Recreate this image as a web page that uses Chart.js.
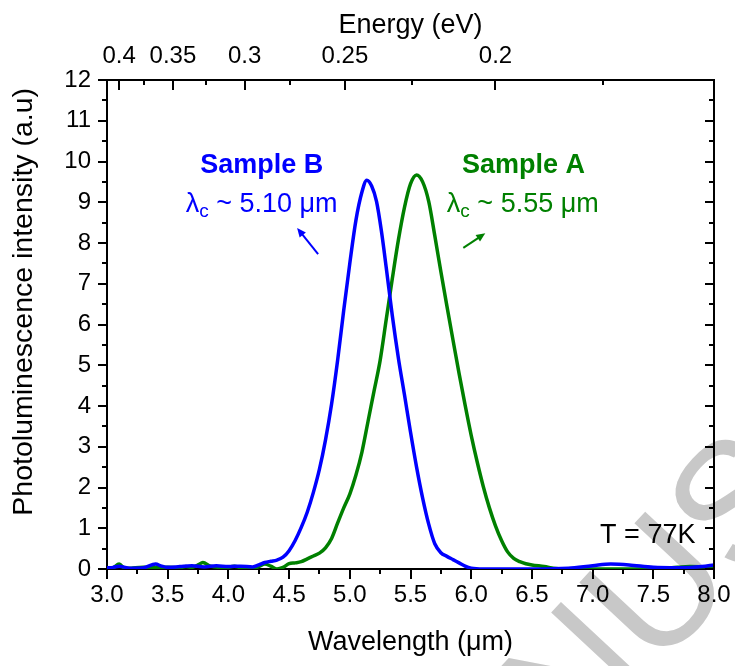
<!DOCTYPE html>
<html>
<head>
<meta charset="utf-8">
<script src="https://cdn.jsdelivr.net/npm/chart.js@4.4.1/dist/chart.umd.min.js"></script>
<style>
  body { margin: 0; background: #fff; }
  canvas { display: block; }
</style>
</head>
<body>
<canvas id="plChart" width="735" height="666"></canvas>
<script>
// wavelength (um) / intensity (a.u)
const wavelengthB = [3.00,3.05,3.10,3.15,3.20,3.30,3.40,3.45,3.50,3.60,3.70,3.80,3.90,4.00,4.10,4.20,4.25,4.30,4.35,4.40,4.45,4.50,4.55,4.60,4.65,4.70,4.75,4.80,4.85,4.90,4.95,5.00,5.05,5.10,5.14,5.18,5.22,5.26,5.30,5.35,5.40,5.45,5.50,5.55,5.60,5.65,5.70,5.75,5.80,5.85,5.90,5.95,6.00,6.10,6.50,6.80,7.00,7.15,7.30,7.50,7.70,7.90,8.00];
const intensityB = [0.03,0.04,0.07,0.04,0.02,0.03,0.12,0.07,0.04,0.06,0.08,0.05,0.08,0.06,0.07,0.05,0.10,0.16,0.19,0.22,0.29,0.45,0.70,1.02,1.40,1.88,2.45,3.17,4.05,5.13,6.35,7.50,8.55,9.25,9.54,9.40,9.02,8.30,7.40,6.22,5.18,4.28,3.36,2.50,1.74,1.10,0.62,0.40,0.31,0.23,0.15,0.07,0.02,0.00,0.00,0.02,0.08,0.12,0.10,0.04,0.03,0.06,0.10];

const wavelengthA = [3.00,3.05,3.10,3.15,3.20,3.30,3.40,3.50,3.60,3.65,3.70,3.75,3.79,3.85,3.90,3.95,4.05,4.10,4.20,4.25,4.30,4.35,4.40,4.45,4.50,4.55,4.60,4.65,4.70,4.75,4.80,4.85,4.90,4.95,5.00,5.05,5.10,5.15,5.20,5.25,5.30,5.35,5.40,5.45,5.50,5.55,5.60,5.65,5.70,5.75,5.80,5.85,5.90,5.95,6.00,6.05,6.10,6.15,6.20,6.25,6.30,6.35,6.40,6.45,6.50,6.60,6.70,6.80,7.00,7.50,7.70,7.80,8.00];
const intensityA = [0.00,0.03,0.12,0.01,0.02,0.04,0.04,0.04,0.03,0.06,0.04,0.10,0.16,0.07,0.05,0.01,0.07,0.03,0.02,0.06,0.12,0.07,0.00,0.04,0.13,0.15,0.18,0.25,0.32,0.39,0.52,0.75,1.13,1.50,1.84,2.30,2.87,3.62,4.37,5.12,6.12,7.12,8.07,8.87,9.45,9.67,9.50,9.02,8.18,7.30,6.45,5.62,4.80,4.02,3.28,2.62,2.02,1.50,1.06,0.70,0.42,0.26,0.18,0.13,0.10,0.06,0.01,0.00,0.00,0.00,0.04,0.06,0.05];

const wavelengthTicks = [3.0,3.5,4.0,4.5,5.0,5.5,6.0,6.5,7.0,7.5,8.0];
const intensityTicks = [0,1,2,3,4,5,6,7,8,9,10,11,12];
const energyTicks = [0.4,0.35,0.3,0.25,0.2];
const energyMinor = [0.375,0.325,0.275,0.225,0.175];

const FONT = '"Liberation Sans", Arial, Helvetica, sans-serif';
const BLUE = '#0000ff';
const GREEN = '#008000';

Chart.defaults.font.family = FONT;
Chart.defaults.color = '#000';

function toPoints(xs, ys) {
  return xs.map(function (x, i) { return { x: x, y: ys[i] }; });
}

// white page + grey watermark behind everything
const background = {
  id: 'background',
  beforeDraw(chart) {
    const c = chart.ctx;
    c.save();
    c.fillStyle = '#fff';
    c.fillRect(0, 0, chart.width, chart.height);
    c.translate(364, 916);
    c.rotate(-47 * Math.PI / 180);
    c.font = '170px ' + FONT;
    c.fillStyle = '#c8c8c8';
    c.textBaseline = 'middle';
    c.fillText('MANUSCRIPT', 0, 0);
    c.restore();
  }
};

// Origin-style frame: outward ticks left/bottom, inward ticks top/right
const frameTicks = {
  id: 'frameTicks',
  afterDraw(chart) {
    const c = chart.ctx;
    const a = chart.chartArea;
    const xs = chart.scales.x;
    const ys = chart.scales.y;
    c.save();
    c.strokeStyle = '#000';
    c.lineWidth = 2;
    function seg(x1, y1, x2, y2) {
      c.beginPath(); c.moveTo(x1, y1); c.lineTo(x2, y2); c.stroke();
    }
    for (let i = 0; i <= 20; i++) {
      const v = 3 + i * 0.25;
      const px = Math.round(xs.getPixelForValue(v));
      seg(px, a.bottom, px, a.bottom + (i % 2 === 0 ? 10 : 5));
    }
    for (let i = 0; i <= 24; i++) {
      const v = i * 0.5;
      const py = Math.round(ys.getPixelForValue(v));
      const len = i % 2 === 0 ? 9 : 5;
      seg(a.left - len, py, a.left, py);
      seg(a.right, py, a.right - len, py);
    }
    energyTicks.forEach(function (e) {
      const px = Math.round(xs.getPixelForValue(1.24 / e));
      seg(px, a.top, px, a.top + 10);
    });
    energyMinor.forEach(function (e) {
      const w = 1.24 / e;
      if (w > 8) return;
      const px = Math.round(xs.getPixelForValue(w));
      seg(px, a.top, px, a.top + 5);
    });
    seg(a.right, a.top - 1, a.right, a.bottom + 1);
    c.restore();
  }
};

function arrow(c, x1, y1, x2, y2, color) {
  const ang = Math.atan2(y2 - y1, x2 - x1);
  c.strokeStyle = color;
  c.fillStyle = color;
  c.lineWidth = 2;
  c.beginPath();
  c.moveTo(x1, y1);
  c.lineTo(x2 - 6 * Math.cos(ang), y2 - 6 * Math.sin(ang));
  c.stroke();
  c.beginPath();
  c.moveTo(x2, y2);
  c.lineTo(x2 - 9 * Math.cos(ang) + 4 * Math.sin(ang), y2 - 9 * Math.sin(ang) - 4 * Math.cos(ang));
  c.lineTo(x2 - 9 * Math.cos(ang) - 4 * Math.sin(ang), y2 - 9 * Math.sin(ang) + 4 * Math.cos(ang));
  c.closePath();
  c.fill();
}

function lambdaLabel(c, cx, cy, value, color) {
  const main = '27px ' + FONT;
  const sub = '19px ' + FONT;
  const rest = ' ~ ' + value + ' \u03bcm';
  c.font = main; const w1 = c.measureText('\u03bb').width;
  c.font = sub; const w2 = c.measureText('c').width;
  c.font = main; const w3 = c.measureText(rest).width;
  const x0 = cx - (w1 + w2 + w3) / 2;
  c.fillStyle = color;
  c.textAlign = 'left';
  c.textBaseline = 'middle';
  c.fillText('\u03bb', x0, cy);
  c.font = sub;
  c.fillText('c', x0 + w1, cy + 7);
  c.font = main;
  c.fillText(rest, x0 + w1 + w2, cy);
}

const labels = {
  id: 'labels',
  afterDatasetsDraw(chart) {
    const c = chart.ctx;
    const xs = chart.scales.x;
    const ys = chart.scales.y;
    const X = function (v) { return xs.getPixelForValue(v); };
    const Y = function (v) { return ys.getPixelForValue(v); };
    c.save();
    c.textAlign = 'center';
    c.textBaseline = 'middle';
    c.font = 'bold 27px ' + FONT;
    c.fillStyle = BLUE;
    c.fillText('Sample B', X(4.274), Y(9.89));
    c.fillStyle = GREEN;
    c.fillText('Sample A', X(6.43), Y(9.89));
    lambdaLabel(c, X(4.274), Y(8.94), '5.10', BLUE);
    lambdaLabel(c, X(6.425), Y(8.94), '5.55', GREEN);
    arrow(c, X(4.739), Y(7.73), X(4.566), Y(8.37), BLUE);
    arrow(c, X(5.935), Y(7.88), X(6.116), Y(8.24), GREEN);
    c.font = '27px ' + FONT;
    c.fillStyle = '#000';
    c.textAlign = 'right';
    c.fillText('T = 77K', X(7.847), Y(0.83));
    c.restore();
  }
};

// keep the plot frame where the figure has it (no extra room for end labels)
function noSidePadding(s) {
  s.paddingLeft = 0;
  s.paddingRight = 0;
}

const ctx = document.getElementById('plChart');
const plChart = new Chart(ctx, {
  type: 'line',
  data: {
    datasets: [{
      label: 'Sample B',
      data: toPoints(wavelengthB, intensityB),
      borderColor: BLUE,
      borderWidth: 3.5,
      pointRadius: 0,
      cubicInterpolationMode: 'monotone'
    }, {
      label: 'Sample A',
      data: toPoints(wavelengthA, intensityA),
      borderColor: GREEN,
      borderWidth: 3.5,
      pointRadius: 0,
      cubicInterpolationMode: 'monotone'
    }]
  },
  plugins: [background, frameTicks, labels],
  options: {
    responsive: false,
    animation: false,
    devicePixelRatio: 1,
    layout: { padding: { left: 0, right: 21, top: 0, bottom: 0 } },
    plugins: {
      legend: { display: false },
      tooltip: { enabled: false }
    },
    scales: {
      x: {
        type: 'linear',
        position: 'bottom',
        min: 3,
        max: 8,
        afterBuildTicks: function (s) { s.ticks = wavelengthTicks.map(function (v) { return { value: v }; }); },
        afterFit: function (s) { s.height = 97; noSidePadding(s); },
        grid: { display: false, drawTicks: false },
        border: { display: true, color: '#000', width: 2 },
        ticks: {
          autoSkip: false, maxRotation: 0, padding: 12,
          font: { size: 24 }, color: '#000',
          callback: function (v) { return v.toFixed(1); }
        },
        title: {
          display: true, text: 'Wavelength (\u03bcm)', color: '#000',
          font: { size: 27 }, padding: { top: 0, bottom: 7 }
        }
      },
      x2: {
        type: 'linear',
        position: 'top',
        min: 3,
        max: 8,
        afterBuildTicks: function (s) { s.ticks = energyTicks.map(function (e) { return { value: 1.24 / e }; }); },
        afterFit: function (s) { s.height = 80; noSidePadding(s); },
        grid: { display: false, drawTicks: false },
        border: { display: true, color: '#000', width: 2 },
        ticks: {
          autoSkip: false, maxRotation: 0, padding: 9,
          font: { size: 24 }, color: '#000',
          callback: function (v, i) { return String(energyTicks[i]); }
        },
        title: {
          display: true, text: 'Energy (eV)', color: '#000',
          font: { size: 27 }, padding: { top: 9, bottom: 0 }
        }
      },
      y: {
        type: 'linear',
        position: 'left',
        min: 0,
        max: 12,
        afterBuildTicks: function (s) { s.ticks = intensityTicks.map(function (v) { return { value: v }; }); },
        afterFit: function (s) { s.width = 107; },
        grid: { display: false, drawTicks: false },
        border: { display: true, color: '#000', width: 2 },
        ticks: { padding: 16, font: { size: 24 }, color: '#000' },
        title: {
          display: true, text: 'Photoluminescence intensity (a.u) ', color: '#000',
          align: 'end', font: { size: 28.5 }, padding: { top: 7, bottom: 0 }
        }
      }
    }
  }
});
</script>
</body>
</html>
